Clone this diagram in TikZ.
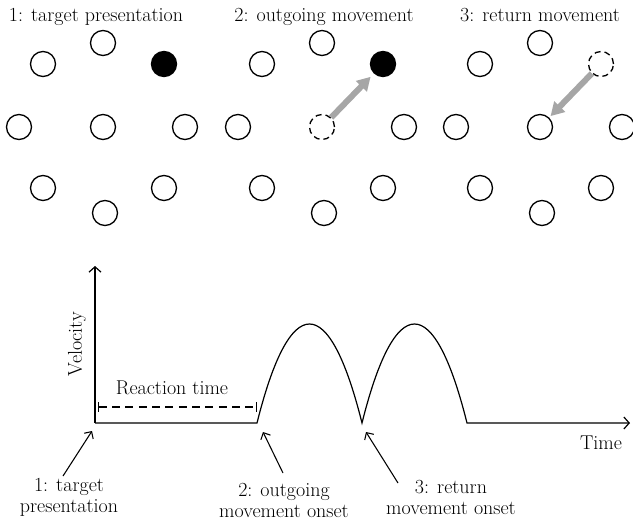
\documentclass[tikz,border=0pt]{standalone}
\usepackage{fontspec}
\usetikzlibrary{arrows.meta}
\tikzset{every picture/.style={line width=0.75pt}}
\tikzset{
  target/.style={draw, circle, minimum size=18.75pt, inner sep=0pt, line width=1pt},
  ghost/.style={target, dash pattern=on 4.5pt off 3pt},
  move/.style={draw={rgb, 255:red, 166; green, 166; blue, 166}, line width=4.5pt, -{Triangle[length=10pt,width=11pt]}},
  axis/.style={line width=0.9pt, -{Straight Barb[length=4pt,width=9pt]}},
  pointer/.style={line width=0.8pt, -{Straight Barb[length=4pt,width=8pt]}},
  lbl/.style={font=\fontsize{15}{15.75}\selectfont, inner sep=0pt, align=center}
}

\begin{document}
\begin{tikzpicture}[x=0.75pt,y=0.75pt,yscale=-1,xscale=1]
	\useasboundingbox (0,0) rectangle (633,522);

	%Shape: Circles of the three panels
	\foreach \p/\cx in {a/103,b/322,c/540}{
		\foreach \n/\dx/\dy in {t/0/-84, ul/-60/-63, l/-84/0, r/82/0, ll/-60/61, lr/61/61, bt/2/86}
			\node[target] (\p\n) at (\cx+\dx,127+\dy) {};
	}
	%Shape: Circle (target shown)
	\node[target, fill=black] (aur) at (164,64) {};
	\node[target] (ac) at (103,127) {};
	%Shape: Circle (outgoing)
	\node[target, fill=black] (bur) at (383,64) {};
	\node[ghost] (bc) at (322,127) {};
	%Shape: Circle (return)
	\node[ghost] (cur) at (601,64) {};
	\node[target] (cc) at (540,127) {};

	%Straight Lines (movements)
	\draw[move, shorten >=3.5pt] (bc) -- (bur);
	\draw[move, shorten >=1.5pt] (cur) -- (cc);

	% Text Node
	\node[lbl, anchor=base] (ttl1) at (96,21) {1: target presentation};
	% Text Node
	\node[lbl, anchor=base] (ttl2) at (324,21) {2: outgoing movement};
	% Text Node
	\node[lbl, anchor=base] (ttl3) at (540,21) {3: return movement};

	%Straight Lines (axes and velocity profile)
	\coordinate (O) at (95,423);
	\coordinate (ytop) at (95,266);
	\coordinate (xend) at (630,423);
	\coordinate (on1) at (257,423);
	\coordinate (on2) at (362,423);
	\coordinate (off) at (467,423);
	\draw[axis] (O) -- (ytop);
	\draw[axis] (O) -- (on1) .. controls (290,291) and (329,291) .. (on2) .. controls (395,291) and (434,291) .. (off) -- (xend);

	%Straight Lines (reaction time)
	\coordinate (rtL) at (98,407);
	\coordinate (rtR) at (257,407);
	\draw[line width=0.8pt, dash pattern=on 6pt off 4pt, {Bar[width=7pt]}-{Bar[width=7pt]}] (rtL) -- (rtR);

	% Text Node
	\node[lbl] (rtlbl) at (172,388) {Reaction time};
	% Text Node
	\node[lbl, rotate=90] (vel) at (77,344) {Velocity};
	% Text Node
	\node[lbl] (time) at (601,443) {Time};
	% Text Node
	\node[lbl] (note1) at (69,497) {1: target\\presentation};
	% Text Node
	\node[lbl] (note2) at (284,500) {2: outgoing\\movement onset};
	% Text Node
	\node[lbl] (note3) at (451,497) {3: return\\movement onset};

	%Straight Lines (pointers)
	\coordinate (p1) at (92,431);
	\coordinate (p2) at (263,432);
	\coordinate (p3) at (366,432);
	\coordinate (tail1) at (63,476);
	\coordinate (tail2) at (283,473);
	\coordinate (tail3) at (398,483);
	\draw[pointer] (tail1) -- (p1);
	\draw[pointer] (tail2) -- (p2);
	\draw[pointer] (tail3) -- (p3);

\end{tikzpicture}
\end{document}
